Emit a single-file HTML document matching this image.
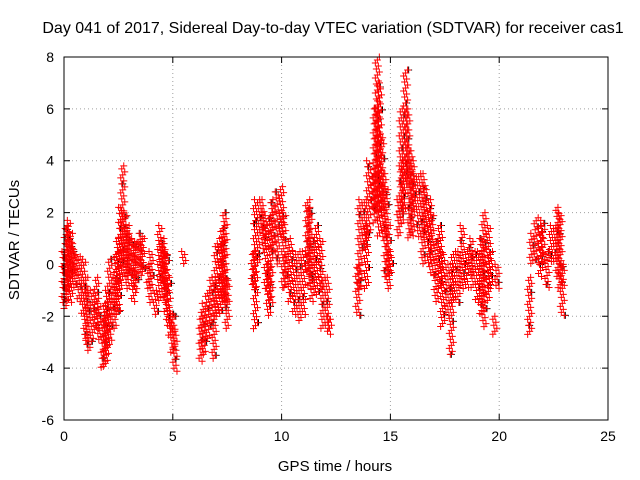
<!DOCTYPE html>
<html><head><meta charset="utf-8"><style>
body{margin:0;background:#fff;}
svg{display:block;font-family:"Liberation Sans",sans-serif;}
</style></head><body>
<svg id="chart" width="640" height="480" viewBox="0 0 640 480" xmlns="http://www.w3.org/2000/svg">
<text x="333" y="33" font-size="16" text-anchor="middle">Day 041 of 2017, Sidereal Day-to-day VTEC variation (SDTVAR) for receiver cas1</text>
<text x="335" y="471" font-size="15" text-anchor="middle">GPS time / hours</text>
<text x="0" y="0" font-size="15" text-anchor="middle" transform="translate(19,240) rotate(-90)">SDTVAR / TECUs</text>
<g id="grid"></g>
<g id="axes"></g>
<g id="marks"></g>
<rect x="64" y="57" width="544" height="363" fill="none" stroke="#000" stroke-width="1"/>
</svg>
<script>
const xTicks=[0,5,10,15,20,25];
const yTicks=[-6,-4,-2,0,2,4,6,8];
const times=[0.0,0.1,0.2,0.3,0.4,0.5,0.7,0.9,1.0,1.1,1.3,1.5,1.6,1.8,1.9,2.0,2.1,2.3,2.4,2.5,2.6,2.7,2.8,2.9,3.0,3.2,3.3,3.5,3.6,3.9,4.0,4.2,4.4,4.5,4.6,4.7,4.8,4.9,5.0,5.1,5.5,
6.3,6.4,6.6,6.8,6.9,7.0,7.2,7.3,7.4,7.5,
8.7,8.8,8.9,9.1,9.2,9.3,9.4,9.5,9.6,9.8,10.0,10.1,10.2,10.4,10.6,10.8,11.0,11.2,11.3,11.4,11.6,11.8,11.9,12.1,12.2,
13.5,13.6,13.8,13.9,14.0,14.2,14.3,14.4,14.5,14.6,14.7,14.8,14.9,15.0,15.4,15.5,15.6,15.7,15.8,15.9,16.0,16.1,16.3,16.5,16.6,16.8,16.9,17.1,17.3,17.4,17.6,17.8,17.9,18.1,18.3,18.5,18.7,18.8,19.0,19.2,19.3,19.5,19.6,19.8,19.9,
21.4,21.5,21.7,21.9,22.0,22.2,22.4,22.6,22.7,22.8,22.9];
const lowVals=[-1.8,-1.5,-1,-1.5,-0.5,-1,-1.5,-2,-3,-3.4,-3,-2.5,-3,-4,-4,-3.5,-3,-2.5,-2,-1.8,-1,0,-0.5,-1,-0.5,-1.5,-1,-0.5,-0.3,-1,-1.5,-2,-1.5,-0.8,-1.5,-2,-2.5,-2.8,-3.5,-4.2,0,
-3.8,-3.5,-3,-2.5,-3.7,-2,-2,-1.5,-1.5,-2.5,
-1,-2.5,0,1,0.5,-1,-2,-1.5,0.5,0,1,-1,-1,-1.5,-2,-2.2,-2,-0.5,-1,-1.5,-1.2,-1,-2.5,-2.5,-2.8,
-2,-1,0.5,-1,1,2,1.5,2,1,2,1,-0.5,-1,-0.5,1,1.5,2,3,3,1,1,2,1,0,1,0,-0.5,-1.5,-1,-2.5,-2,-3.5,-1.5,-1.5,-1,-1,-0.5,-1,-1.5,-2,-2.5,-1.5,-1,-2.8,-1,
-2.8,0,0,-0.5,0,-1,0,0,-0.5,-1,-2];
const highVals=[0.5,1.5,1.7,1.2,0.8,0.5,0.3,0.2,-0.5,-1,-1,-0.5,-1.5,-2,-1.5,-1,0.2,-0.5,0.5,1,2.2,3.8,2,1.5,1.2,1,0.8,1.2,1,0,0.5,-1,1.5,1,0.8,0.5,-0.5,-1.8,-2,-2.5,0.5,
-2,-1.5,-1,-0.5,-0.5,0.8,1,1.5,2,-0.5,
0.5,2.5,2.5,2.5,2,1.5,0,2,2.5,2.8,3,2,0.5,1,0.5,0.5,0.5,2.5,2.2,1,1.5,1,-0.5,-0.5,-2,
0,2.5,2.5,1.5,4,3.5,6,8,7,5,3.5,3,1.5,0.5,2.5,6,4,7.5,6,4.5,4,3.5,3.5,3.5,3,2.5,2,1,1.5,0.5,0,0,0.5,0.5,1.5,0.5,1,0.5,0.5,1,2,1.5,0.5,-2,0,
-0.5,1.2,1.8,1.5,1.7,0.5,1.5,1.5,2.2,2,0];
const L=64,R=608,T=57,B=420,xMin=0,xMax=25,yMin=-6,yMax=8;
function xs(v){return L+(v-xMin)/(xMax-xMin)*(R-L);}
function ys(v){return B-(v-yMin)/(yMax-yMin)*(B-T);}
const NS="http://www.w3.org/2000/svg";
const grid=document.getElementById('grid'),axes=document.getElementById('axes'),marks=document.getElementById('marks');
function mk(tag,attrs,parent){const e=document.createElementNS(NS,tag);for(const k in attrs)e.setAttribute(k,attrs[k]);parent.appendChild(e);return e;}
xTicks.forEach(t=>{const x=xs(t);
 if(t>xMin&&t<xMax){const g=mk('line',{x1:x,x2:x,y1:T,y2:B,stroke:'#a0a0a0','stroke-dasharray':'1,3'},grid);}
 const tk=mk('path',{d:`M${x},${B}v-6M${x},${T}v6`,stroke:'#000'},axes);
 const lb=mk('text',{x:x,y:B+21,'font-size':14,'text-anchor':'middle'},axes);lb.textContent=t;});
yTicks.forEach(t=>{const y=ys(t);
 if(t>yMin&&t<yMax){const g=mk('line',{x1:L,x2:R,y1:y,y2:y,stroke:'#a0a0a0','stroke-dasharray':'1,3'},grid);}
 const tk=mk('path',{d:`M${L},${y}h6M${R},${y}h-6`,stroke:'#000'},axes);
 const lb=mk('text',{x:L-10,y:y+5,'font-size':14,'text-anchor':'end'},axes);lb.textContent=t;});
let dRed='',dBlack='';
const offs=[-2,1,-1,2,0];
times.forEach((t,i)=>{const x=xs(t);const y1=ys(highVals[i]),y2=ys(lowVals[i]);let k=0;
 for(let y=y1;y<=y2+0.01;y+=3,k++){
  const ox=offs[(k+i)%5];
  if((k+i)%11===5)dBlack+=`M${x-3.5+ox+1},${y}h7M${x+ox+1},${y-3.5}v7`;
  dRed+=`M${x-3.5+ox},${y}h7M${x+ox},${y-3.5}v7`;}
});
const pb=mk('path',{d:dBlack,stroke:'#000','stroke-width':1,fill:'none'},marks);


const pr=mk('path',{d:dRed,stroke:'#ff0000','stroke-width':1,fill:'none'},marks);


</script>
</body></html>
